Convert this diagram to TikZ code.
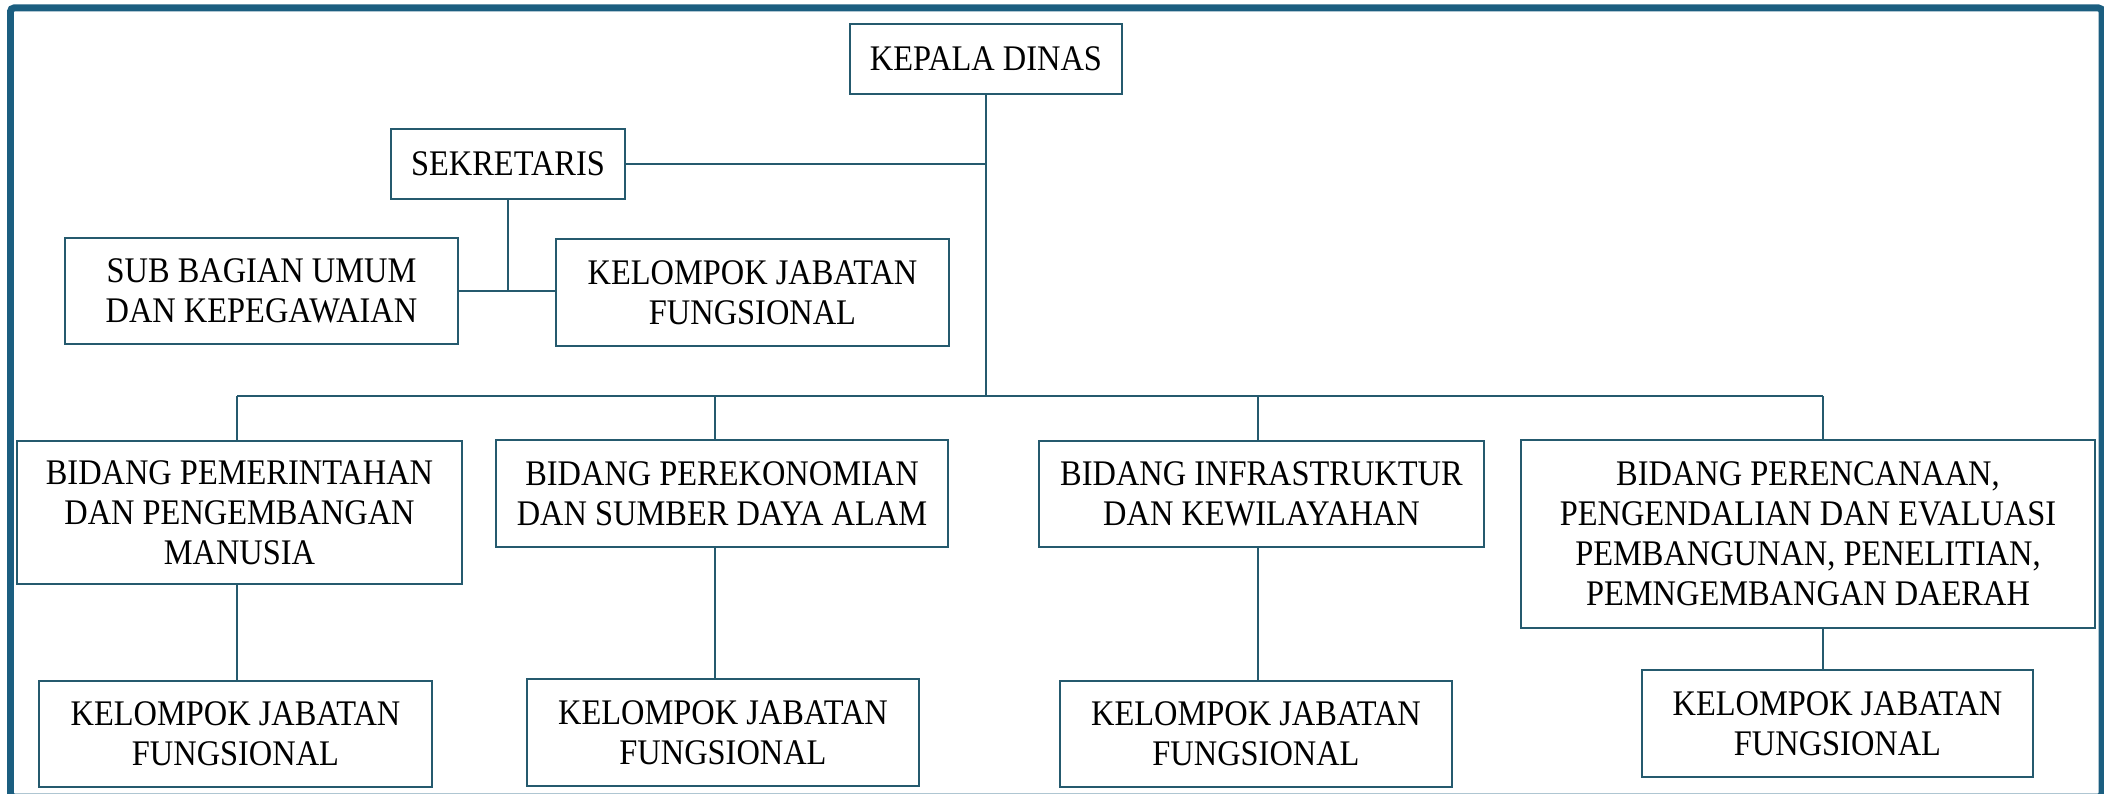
\documentclass[tikz,border=0pt]{standalone}
\usepackage{fontspec}
\setmainfont{Liberation Serif}[FakeStretch=0.9]
\usepackage{tikz}
\usetikzlibrary{positioning}
\definecolor{colorframe}{RGB}{27,94,128}
\definecolor{colorline}{RGB}{37,90,110}
\tikzstyle{unit}=[rectangle, draw=colorline, line width=0.04cm, inner sep=0pt, outer sep=0pt, align=center, font=\fontsize{20.5}{22.8}\selectfont]
\tikzstyle{link}=[draw=colorline, line width=0.04cm]

\begin{document}
\begin{tikzpicture}[x=0.02cm, y=-0.02cm]
	\useasboundingbox (0, 0) rectangle (2104, 794);
	\draw[colorframe, line width=0.14cm, rounded corners=2pt] (10.5, 8) rectangle (2102, 797);
	
	\node[unit, minimum width=5.44cm, minimum height=1.4cm] at (986, 59) (kepala) {KEPALA DINAS};
	
	\node[unit, minimum width=4.68cm, minimum height=1.4cm] at (508, 164) (sekretaris) {SEKRETARIS};
	
	\node[unit, minimum width=7.86cm, minimum height=2.12cm] at (261.5, 291) (subbag) {SUB BAGIAN UMUM\\DAN KEPEGAWAIAN};
	\node[unit, minimum width=7.86cm, minimum height=2.14cm] at (752.5, 292.5) (kjfsek) {KELOMPOK JABATAN\\FUNGSIONAL};
	
	\node[unit, minimum width=8.9cm, minimum height=2.86cm] at (239.5, 512.5) (b1) {BIDANG PEMERINTAHAN\\DAN PENGEMBANGAN\\MANUSIA};
	\node[unit, minimum width=9.04cm, minimum height=2.14cm] at (722, 493.5) (b2) {BIDANG PEREKONOMIAN\\DAN SUMBER DAYA ALAM};
	\node[unit, minimum width=8.9cm, minimum height=2.12cm] at (1261.5, 494) (b3) {BIDANG INFRASTRUKTUR\\DAN KEWILAYAHAN};
	\node[unit, minimum width=11.48cm, minimum height=3.76cm] at (1808, 534) (b4) {BIDANG PERENCANAAN,\\PENGENDALIAN DAN EVALUASI\\PEMBANGUNAN, PENELITIAN,\\PEMNGEMBANGAN DAERAH};
	
	\node[unit, minimum width=7.86cm, minimum height=2.12cm] at (235.5, 734) (k1) {KELOMPOK JABATAN\\FUNGSIONAL};
	\node[unit, minimum width=7.84cm, minimum height=2.14cm] at (723, 732.5) (k2) {KELOMPOK JABATAN\\FUNGSIONAL};
	\node[unit, minimum width=7.84cm, minimum height=2.12cm] at (1256, 734) (k3) {KELOMPOK JABATAN\\FUNGSIONAL};
	\node[unit, minimum width=7.82cm, minimum height=2.14cm] at (1837.5, 723.5) (k4) {KELOMPOK JABATAN\\FUNGSIONAL};
	
	% bus to the bidang boxes
	\coordinate (c1) at (237, 396);
	\coordinate (c2) at (715, 396);
	\coordinate (c3) at (1258, 396);
	\coordinate (c4) at (1823, 396);
	
	\path[link] (kepala.south) -- (kepala.south |- c1);
	\path[link] (sekretaris.east) -- (sekretaris.east -| kepala.south);
	\path[link] (subbag.east) -- (subbag.east -| kjfsek.west);
	\path[link] (sekretaris.south) -- (sekretaris.south |- subbag.east);
	\path[link] (c1) -- (c4);
	\foreach \i in {1,...,4} {
		\path[link] (c\i) -- (c\i |- b\i.north);
		\path[link] (c\i |- b\i.south) -- (c\i |- k\i.north);
	}
	
\end{tikzpicture}
\end{document}
